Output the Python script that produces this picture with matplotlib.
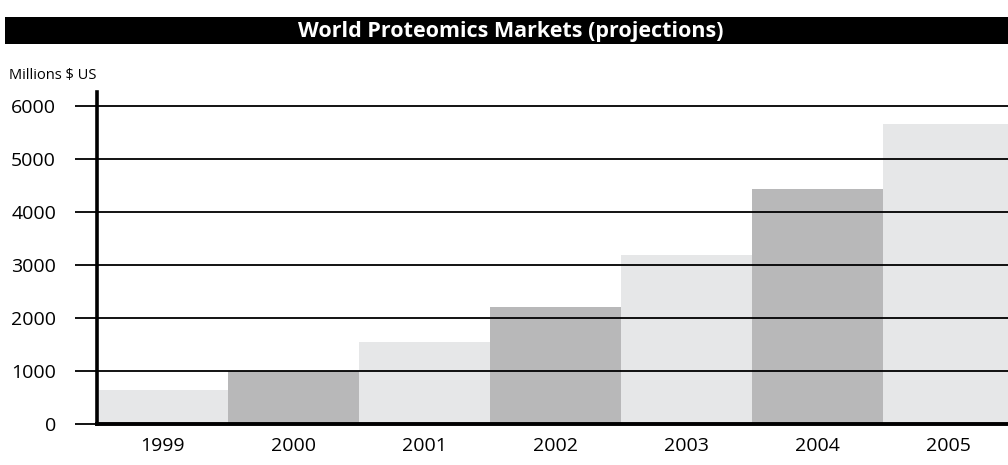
"""
World Proteomics Markets (projections) bar chart.
"""

import matplotlib
matplotlib.use("Agg")
import matplotlib.pyplot as plt
from matplotlib.patches import Rectangle

# Data
years = ["1999", "2000", "2001", "2002", "2003", "2004", "2005"]
market = [640, 1000, 1550, 2210, 3190, 4430, 5660]
y_ticks = [0, 1000, 2000, 3000, 4000, 5000, 6000]

LIGHT = "#e6e7e8"
DARK = "#b8b8b9"

plt.rcParams['font.family'] = ['Open Sans', 'DejaVu Sans']

fig = plt.figure(figsize=(10.08, 4.65), dpi=100)

# Axes in pixel terms: left spine at x=97, bars 131 px wide, y=0 at 424, 6000 at 106
W, H = 1008.0, 465.0
left_px, right_px = 97, 97 + 7 * 131
bottom_px, top_px = 424, 92
ax = fig.add_axes([left_px / W, (H - bottom_px) / H,
                   (right_px - left_px) / W, (bottom_px - top_px) / H])

x = list(range(len(years)))
colors = [LIGHT if i % 2 == 0 else DARK for i in x]
ax.bar(x, market, width=1.0, color=colors, edgecolor="none", zorder=1)

ax.set_xlim(-0.5, len(years) - 0.5)
ax.set_ylim(0, 6000 * (bottom_px - top_px) / (bottom_px - 106))

# Black horizontal gridlines over the bars
for v in y_ticks[1:]:
    ax.axhline(v, color="black", linewidth=1.3, zorder=3)

# px -> pt at 100 dpi
PT = 72 / 100.0
ax.set_yticks(y_ticks)
ax.set_yticklabels([str(v) for v in y_ticks])
ax.set_xticks(x)
ax.set_xticklabels(years)
ax.tick_params(axis="y", length=22 * PT, width=1.3, color="black",
               pad=19 * PT, labelsize=14)
ax.tick_params(axis="x", length=0, pad=9.5, labelsize=14)

for side in ["top", "right"]:
    ax.spines[side].set_visible(False)
ax.spines["left"].set_linewidth(2.6)
ax.spines["bottom"].set_linewidth(2.8)
ax.spines["left"].set_zorder(4)
ax.spines["bottom"].set_zorder(4)

# Title bar
fig.patches.append(Rectangle((5 / W, 1 - 44 / H), (W - 5) / W, 27 / H,
                             transform=fig.transFigure, facecolor="black",
                             edgecolor="none", zorder=0))
fig.text(511 / W, 1 - 31 / H, "World Proteomics Markets (projections)",
         color="white", fontsize=15.5, fontweight="bold",
         ha="center", va="center")

fig.text(9 / W, 1 - 76 / H, "Millions $ US", fontsize=10.5,
         ha="left", va="center")

fig.savefig("out.png", dpi=100)
